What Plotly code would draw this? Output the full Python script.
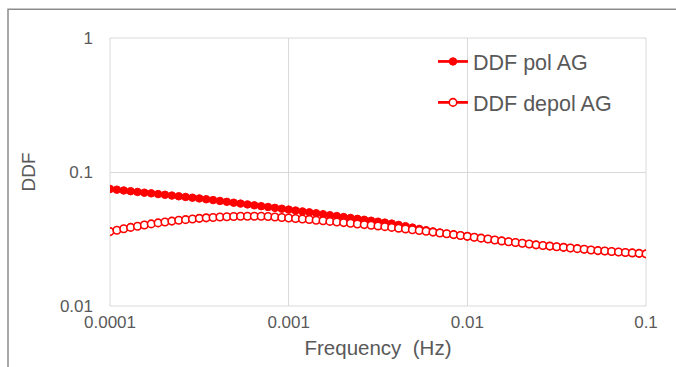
import plotly.graph_objects as go

freq_exp_start = -4
points_per_decade = 26
n_points = 79
frequency = [10 ** (freq_exp_start + i / points_per_decade) for i in range(n_points)]

ddf_depol = [
    0.0359, 0.0368, 0.0377, 0.0386, 0.0394, 0.0402, 0.0410, 0.0417, 0.0424, 0.0430,
    0.0436, 0.0441, 0.0446, 0.0451, 0.0455, 0.0458, 0.0461, 0.0464, 0.0466, 0.0467,
    0.0468, 0.0468, 0.0467, 0.0465, 0.0462, 0.0458, 0.0454, 0.0450, 0.0446, 0.0442,
    0.0437, 0.0433, 0.0428, 0.0424, 0.0419, 0.0414, 0.0409, 0.0405, 0.0400, 0.0396,
    0.0391, 0.0386, 0.0381, 0.0376, 0.0371, 0.0366, 0.0361, 0.0356, 0.0351, 0.0346,
    0.0341, 0.0336, 0.0331, 0.0326, 0.0321, 0.0316, 0.0311, 0.0306, 0.0302, 0.0298,
    0.0294, 0.0290, 0.0286, 0.0283, 0.0280, 0.0277, 0.0274, 0.0271, 0.0268, 0.0265,
    0.0262, 0.0259, 0.0257, 0.0255, 0.0253, 0.0251, 0.0249, 0.0247, 0.0245,
]

ddf_pol = [
    0.0747, 0.0738, 0.0728, 0.0719, 0.0710, 0.0701, 0.0693, 0.0684, 0.0676, 0.0667,
    0.0659, 0.0651, 0.0643, 0.0635, 0.0626, 0.0617, 0.0608, 0.0599, 0.0590, 0.0581,
    0.0573, 0.0564, 0.0556, 0.0548, 0.0540, 0.0532, 0.0524, 0.0516, 0.0508, 0.0500,
    0.0492, 0.0484, 0.0476, 0.0469, 0.0461, 0.0454, 0.0447, 0.0440, 0.0433, 0.0426,
    0.0419, 0.0412, 0.0403, 0.0394, 0.0385, 0.0376, 0.0368, 0.0360, 0.0353, 0.0346,
    0.0341, 0.0336, 0.0331, 0.0326, 0.0321, 0.0316, 0.0311, 0.0306, 0.0302, 0.0298,
    0.0294, 0.0290, 0.0286, 0.0283, 0.0280, 0.0277, 0.0274, 0.0271, 0.0268, 0.0265,
    0.0262, 0.0259, 0.0257, 0.0255, 0.0253, 0.0251, 0.0249, 0.0247, 0.0245,
]

x_tickvals = [0.0001, 0.001, 0.01, 0.1]
x_ticktext = ["0.0001", "0.001", "0.01", "0.1"]
y_tickvals = [0.01, 0.1, 1]
y_ticktext = ["0.01", "0.1", "1"]

RED = "#FF0000"
GRID = "#D9D9D9"
TXT = "#595959"
FONT = "Liberation Sans, Arial, sans-serif"

fig = go.Figure()
fig.add_trace(go.Scatter(
    x=frequency, y=ddf_pol, name="DDF pol AG", mode="lines+markers",
    line=dict(color=RED, width=2.75),
    marker=dict(symbol="circle", size=7.5, color=RED, line=dict(color=RED, width=1)),
    legendgroup="a",
))
fig.add_trace(go.Scatter(
    x=frequency, y=ddf_depol, name="DDF depol AG", mode="lines+markers",
    line=dict(color=RED, width=2.75),
    marker=dict(symbol="circle", size=7.5, color="white", line=dict(color=RED, width=1.6)),
    legendgroup="b",
))

W, H = 676, 367
L, R, T, B = 110, 30, 38, 58
pw, ph = W - L - R, H - T - B

def px_x(p):
    return (p - L) / pw

def px_y(p):
    return (H - B - p) / ph

fig.update_layout(
    width=W, height=H,
    margin=dict(l=L, r=R, t=T, b=B, pad=0),
    paper_bgcolor="white", plot_bgcolor="white",
    font=dict(family=FONT, color=TXT, size=17),
    showlegend=True,
    legend=dict(
        x=px_x(433), y=px_y(41), xanchor="left", yanchor="top",
        bgcolor="rgba(0,0,0,0)", font=dict(size=21.5, color=TXT),
        tracegroupgap=10, itemwidth=30,
    ),
    xaxis=dict(
        type="log", range=[-4, -1], tickvals=x_tickvals, ticktext=x_ticktext,
        showgrid=True, gridcolor=GRID, gridwidth=1, zeroline=False,
        showline=False, ticks="", ticklabelstandoff=4,
        tickfont=dict(size=17, color=TXT),
        title=dict(text="Frequency\u00a0\u00a0(Hz)", font=dict(size=20.5, color=TXT), standoff=9),
    ),
    yaxis=dict(
        type="log", range=[-2, 0], tickvals=y_tickvals, ticktext=y_ticktext,
        showgrid=True, gridcolor=GRID, gridwidth=1, zeroline=False,
        showline=False, ticks="", ticklabelstandoff=16,
        tickfont=dict(size=17, color=TXT),
        title=dict(text="DDF", font=dict(size=19, color=TXT), standoff=19),
    ),
    shapes=[
        dict(type="rect", xref="paper", yref="paper",
             x0=px_x(8), x1=px_x(690), y0=px_y(9), y1=px_y(380),
             line=dict(color="#8C8C8C", width=1.5), fillcolor="rgba(0,0,0,0)",
             layer="below"),
        dict(type="line", xref="paper", yref="paper",
             x0=0, x1=0, y0=0, y1=1, line=dict(color=GRID, width=1), layer="below"),
        dict(type="line", xref="paper", yref="paper",
             x0=1, x1=1, y0=0, y1=1, line=dict(color=GRID, width=1), layer="below"),
        dict(type="line", xref="paper", yref="paper",
             x0=0, x1=1, y0=0, y1=0, line=dict(color=GRID, width=1), layer="below"),
        dict(type="line", xref="paper", yref="paper",
             x0=0, x1=1, y0=1, y1=1, line=dict(color=GRID, width=1), layer="below"),
    ],
)

fig.write_html("out.html")
